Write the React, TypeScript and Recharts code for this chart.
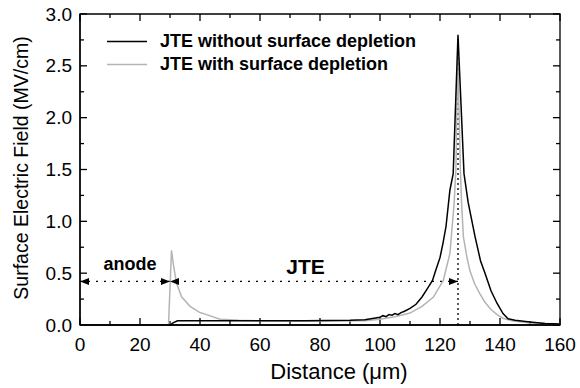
import { LineChart, Line, XAxis, YAxis, ReferenceLine, ReferenceDot, ReferenceArea, Legend } from 'recharts'

const FONT = '"Liberation Sans", Arial, Helvetica, sans-serif'

// JTE without surface depletion (black)
const noDeplX = [0, 30, 31, 32.5, 45, 60, 75, 90, 95, 98, 100, 101, 102, 103, 104, 105, 106, 107, 108, 110, 112, 114, 116, 117.5, 118.5, 120, 121, 122, 123.3, 124.4, 126, 128, 129.4, 131.7, 133.5, 135, 137, 139, 141, 142.7, 145, 150, 155, 160]
const noDeplY = [0, 0, 0.02, 0.04, 0.04, 0.04, 0.042, 0.045, 0.05, 0.065, 0.075, 0.09, 0.08, 0.1, 0.095, 0.11, 0.1, 0.12, 0.13, 0.16, 0.2, 0.27, 0.36, 0.43, 0.52, 0.65, 0.79, 0.95, 1.3, 1.46, 2.8, 1.46, 1.18, 0.85, 0.62, 0.5, 0.33, 0.21, 0.11, 0.06, 0.045, 0.03, 0.015, 0.01]

// JTE with surface depletion (gray)
const deplX = [0, 29.5, 30.5, 31.3, 32.2, 33.9, 36.7, 40, 42.2, 46.7, 53, 60, 80, 95, 100, 105, 110, 114, 117.8, 121.1, 123.3, 124.7, 125.3, 125.9, 126.8, 127.2, 127.8, 129, 130, 131.5, 133.3, 135, 137, 139, 141, 144, 150, 160]
const deplY = [0, 0, 0.72, 0.55, 0.4, 0.27, 0.18, 0.12, 0.1, 0.055, 0.045, 0.04, 0.038, 0.04, 0.055, 0.08, 0.115, 0.18, 0.27, 0.43, 0.69, 1.17, 1.5, 2.6, 1.5, 1.17, 0.85, 0.65, 0.52, 0.4, 0.3, 0.22, 0.15, 0.1, 0.065, 0.04, 0.02, 0.01]

const xTicks = [0, 10, 20, 30, 40, 50, 60, 70, 80, 90, 100, 110, 120, 130, 140, 150, 160]
const yTicks = [0, 0.25, 0.5, 0.75, 1, 1.25, 1.5, 1.75, 2, 2.25, 2.5, 2.75, 3]

// annotation positions (data units)
const arrowY = 0.42
const anodeEnd = 30
const peakX = 126
const peakTop = 2.76

const noDeplData = noDeplX.map((x, i) => ({ x, y: noDeplY[i] }))
const deplData = deplX.map((x, i) => ({ x, y: deplY[i] }))

const series = [
  { name: 'JTE without surface depletion', color: '#000000' },
  { name: 'JTE with surface depletion', color: '#b4b4b4' },
]

const isMajorX = (v: number) => v % 20 === 0
const isMajorY = (v: number) => Math.abs(v * 2 - Math.round(v * 2)) < 1e-6

// tick labels only; tick marks are drawn inward on all four sides below
const BottomLabel = ({ x, y, payload }: any) =>
  isMajorX(payload.value) ? (
    <text x={x} y={y + 24} textAnchor="middle" fontSize={19} fontFamily={FONT} fill="#000">
      {payload.value}
    </text>
  ) : (
    <g />
  )

const LeftLabel = ({ x, y, payload }: any) =>
  isMajorY(payload.value) ? (
    <text x={x - 6} y={y} dy="0.35em" textAnchor="end" fontSize={19} fontFamily={FONT} fill="#000">
      {payload.value.toFixed(1)}
    </text>
  ) : (
    <g />
  )

const xTickMarks = (major: boolean) => (p: any) => {
  const top = Math.min(p.y1, p.y2)
  const bot = Math.max(p.y1, p.y2)
  const len = major ? 7 : 4
  return (
    <g stroke="#000" strokeWidth={1.3}>
      <line x1={p.x1} x2={p.x1} y1={bot} y2={bot - len} />
      <line x1={p.x1} x2={p.x1} y1={top} y2={top + len} />
    </g>
  )
}

const yTickMarks = (major: boolean) => (p: any) => {
  const left = Math.min(p.x1, p.x2)
  const right = Math.max(p.x1, p.x2)
  const len = major ? 7 : 4
  return (
    <g stroke="#000" strokeWidth={1.3}>
      <line x1={left} x2={left + len} y1={p.y1} y2={p.y1} />
      <line x1={right} x2={right - len} y1={p.y1} y2={p.y1} />
    </g>
  )
}

const arrowLeft = ({ cx, cy }: any) => (
  <polygon points={`${cx},${cy} ${cx + 9},${cy - 3.5} ${cx + 9},${cy + 3.5}`} fill="#000" />
)
const arrowRight = ({ cx, cy }: any) => (
  <polygon points={`${cx},${cy} ${cx - 9},${cy - 3.5} ${cx - 9},${cy + 3.5}`} fill="#000" />
)

const textShape = (label: string, size: number) => ({ cx, cy }: any) => (
  <text x={cx} y={cy} textAnchor="middle" fontSize={size} fontWeight="bold" fontFamily={FONT} fill="#000">
    {label}
  </text>
)

const renderLegend = () => (
  <div style={{ fontFamily: FONT, fontWeight: 'bold', fontSize: 18, color: '#000' }}>
    {series.map((s) => (
      <div key={s.name} style={{ display: 'flex', alignItems: 'center', height: 23.3, whiteSpace: 'nowrap' }}>
        <svg width={53} height={23} style={{ display: 'block' }}>
          <line x1={0} x2={40} y1={11.5} y2={11.5} stroke={s.color} strokeWidth={1.5} />
        </svg>
        <span>{s.name}</span>
      </div>
    ))}
  </div>
)

export default function App() {
  return (
    <div style={{ position: 'absolute', left: 0, top: 0, background: '#fff' }}>
      <LineChart width={580} height={388} margin={{ top: 14, right: 20, bottom: 0, left: 0 }}>
        <XAxis
          type="number"
          dataKey="x"
          domain={[0, 160]}
          ticks={xTicks}
          interval={0}
          tickSize={0}
          tickLine={false}
          tick={BottomLabel}
          height={63}
          axisLine={{ stroke: '#000', strokeWidth: 1.3 }}
          label={{
            content: () => (
              <text x={339} y={379} textAnchor="middle" fontSize={22} fontFamily={FONT} fill="#000">
                Distance (μm)
              </text>
            ),
          }}
        />
        <YAxis
          type="number"
          domain={[0, 3]}
          ticks={yTicks}
          interval={0}
          tickSize={0}
          tickLine={false}
          tick={LeftLabel}
          width={80}
          axisLine={{ stroke: '#000', strokeWidth: 1.3 }}
          label={{
            content: () => (
              <text
                x={28}
                y={168}
                transform="rotate(-90 28 168)"
                textAnchor="middle"
                fontSize={19.5}
                fontFamily={FONT}
                fill="#000"
              >
                Surface Electric Field (MV/cm)
              </text>
            ),
          }}
        />
        <Legend
          layout="horizontal"
          verticalAlign="middle"
          align="center"
          content={renderLegend}
          wrapperStyle={{ position: 'absolute', left: 107, top: 30, width: 'auto' }}
        />

        <ReferenceArea x1={0} x2={160} y1={0} y2={3} fill="none" fillOpacity={0} stroke="#000" strokeWidth={1.3} />
        {xTicks.map((v) => (
          <ReferenceLine key={'xt' + v} x={v} shape={xTickMarks(isMajorX(v))} />
        ))}
        {yTicks.map((v) => (
          <ReferenceLine key={'yt' + v} y={v} shape={yTickMarks(isMajorY(v))} />
        ))}

        <ReferenceLine
          segment={[{ x: 0, y: arrowY }, { x: peakX, y: arrowY }]}
          stroke="#000"
          strokeWidth={1.3}
          strokeDasharray="2 6"
          ifOverflow="visible"
        />
        <ReferenceLine
          segment={[{ x: peakX, y: 0 }, { x: peakX, y: peakTop }]}
          stroke="#000"
          strokeWidth={1.3}
          strokeDasharray="2 3"
          ifOverflow="visible"
        />

        <Line
          data={deplData}
          dataKey="y"
          name={series[1].name}
          stroke={series[1].color}
          strokeWidth={1.5}
          dot={false}
          activeDot={false}
          isAnimationActive={false}
        />
        <Line
          data={noDeplData}
          dataKey="y"
          name={series[0].name}
          stroke={series[0].color}
          strokeWidth={1.5}
          dot={false}
          activeDot={false}
          isAnimationActive={false}
        />

        <ReferenceDot x={0} y={arrowY} r={0} shape={arrowLeft} ifOverflow="visible" />
        <ReferenceDot x={anodeEnd} y={arrowY} r={0} shape={arrowRight} ifOverflow="visible" />
        <ReferenceDot x={anodeEnd} y={arrowY} r={0} shape={arrowLeft} ifOverflow="visible" />
        <ReferenceDot x={peakX} y={arrowY} r={0} shape={arrowRight} ifOverflow="visible" />
        <ReferenceDot x={16.7} y={0.53} r={0} shape={textShape('anode', 18)} ifOverflow="visible" />
        <ReferenceDot x={75.2} y={0.49} r={0} shape={textShape('JTE', 21)} ifOverflow="visible" />
      </LineChart>
    </div>
  )
}
